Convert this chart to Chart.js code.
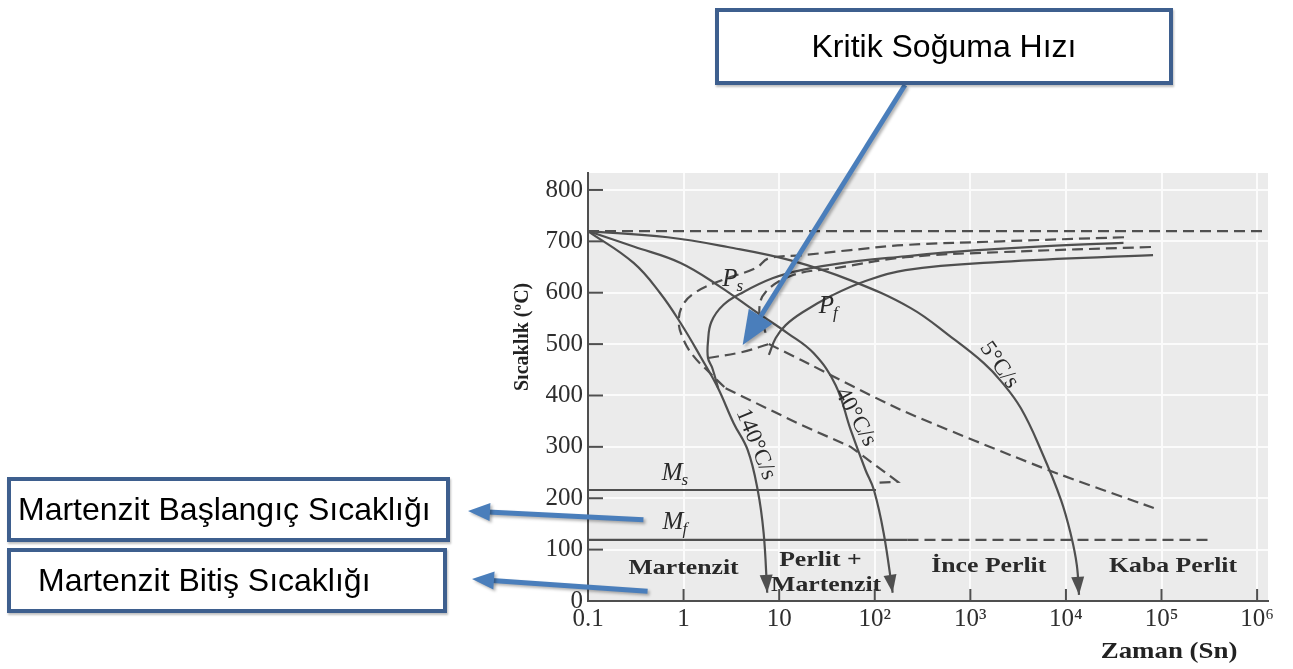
<!DOCTYPE html>
<html lang="tr">
<head>
<meta charset="utf-8">
<title>Soğuma Eğrileri</title>
<script src="https://cdn.jsdelivr.net/npm/chart.js@4.4.1/dist/chart.umd.min.js"></script>
<style>
  html, body { margin: 0; padding: 0; background: #fff; }
  #wrap { position: relative; width: 1293px; height: 669px; overflow: hidden; }
  #grafik { position: absolute; left: 0; top: 0; }
  .kutu {
    position: absolute; box-sizing: border-box;
    border: 4px solid #3e5f8e; background: #fff;
    font-family: "Liberation Sans", Arial, sans-serif; font-size: 32px; color: #000;
    display: flex; align-items: center; white-space: nowrap;
    box-shadow: 1px 2px 2px rgba(0, 0, 0, 0.25);
  }
</style>
</head>
<body>
<div id="wrap">
  <canvas id="grafik" width="1293" height="669"></canvas>
  <div class="kutu" style="left:715px; top:8px; width:458px; height:77px; justify-content:center;">Kritik Soğuma Hızı</div>
  <div class="kutu" style="left:7px; top:477px; width:443px; height:65px; padding-left:7px;">Martenzit Başlangıç Sıcaklığı</div>
  <div class="kutu" style="left:7px; top:548px; width:440px; height:65px; padding-left:27px;">Martenzit Bitiş Sıcaklığı</div>
</div>
<script>
// ===== EKSENLER =====
const xTickValues = [0.1, 1, 10, 100, 1e3, 1e4, 1e5, 1e6];
const xTickLabels = ['0.1', '1', '10', '10²', '10³', '10⁴', '10⁵', '10⁶'];
const yTickValues = [0, 100, 200, 300, 400, 500, 600, 700, 800];

// ===== EĞRİLER [zaman (s), sıcaklık (°C)] =====
const a1Line = [[0.1, 720], [1.3e6, 720]];
const msLine = [[0.1, 216], [103, 216]];
const mfSolid = [[0.1, 119], [220, 119]];
const mfDashed = [[220, 119], [3.3e5, 119]];

// izotermal (kesikli) perlit başlangıç / bitiş
const psTTT = [[40500, 708], [2090, 700], [211, 693], [56, 683], [17.6, 673], [7.8, 667], [5.7, 648],
  [2.56, 625], [1.34, 601], [0.98, 576], [0.89, 543], [0.98, 512], [1.24, 479], [1.83, 446], [2.75, 414]];
const psTTTLow = [[2.75, 414], [15.6, 346], [56, 300], [174, 232], [105, 230]];
const pfTTT = [[77600, 689], [2090, 679], [211, 669], [39, 648], [13.8, 634], [7.2, 601], [6.2, 565], [7.2, 522]];

// dönüşümün durduğu çizgi
const stopArc = [[1.8, 473], [4, 484], [7.8, 500]];
const stopDiag = [[7.8, 500], [17, 469], [187, 372], [6500, 255], [83000, 181]];

// sürekli soğuma (düz) perlit başlangıç / bitiş
const psCCT = [[40000, 697], [7000, 691], [620, 679], [210, 671], [56, 660], [17, 644], [8.5, 628], [4.2, 601],
  [2.6, 576], [1.95, 543], [1.8, 505], [1.8, 473], [2.0, 453], [2.3, 414]];
const pfCCT = [[81500, 673], [2100, 660], [210, 644], [75, 621], [36, 595], [17.6, 562], [11.7, 537], [9.2, 512], [7.8, 479]];

// soğuma hızları
const cool140 = [[0.1, 720], [0.3, 658], [0.57, 599], [0.93, 541], [1.51, 475], [2.27, 416], [3.34, 346],
  [4.68, 294], [5.96, 216], [6.88, 132], [7.5, 16]];
const cool40 = [[0.1, 720], [0.3, 690], [0.93, 658], [2.44, 611], [5.4, 566], [12.3, 521], [23, 482], [39, 420],
  [56, 333], [80, 255], [98, 216], [124, 132], [154, 16]];
const cool5 = [[0.1, 720], [0.68, 708], [2.9, 689], [13.2, 663], [56, 624], [238, 570], [625, 514], [1384, 463],
  [2090, 428], [3380, 375], [5470, 294], [8870, 197], [11300, 128], [13000, 70], [13700, 12]];

// ===== ETİKETLER (veri koordinatında) =====
const curveLabels = [
  { text: '140°C/s', x: 5.7, y: 305, angle: 68 },
  { text: '40°C/s', x: 63, y: 358, angle: 61 },
  { text: '5°C/s', x: 2000, y: 459, angle: 55 }
];
const phaseLabels = [
  { main: 'P', sub: 's', x: 3.3, y: 628 },
  { main: 'P', sub: 'f', x: 33, y: 576 },
  { main: 'M', sub: 's', x: 0.82, y: 251 },
  { main: 'M', sub: 'f', x: 0.82, y: 156 }
];
const regionLabels = [
  { text: 'Martenzit', x: 1.0, y: 64 },
  { text: 'Perlit +', x: 27, y: 80 },
  { text: 'Martenzit', x: 31, y: 31 },
  { text: 'İnce Perlit', x: 1560, y: 68 },
  { text: 'Kaba Perlit', x: 132000, y: 68 }
];
// mavi oklar: uç noktası grafikte (veri), diğer ucu kutuda (piksel)
const blueArrows = [
  { from: { px: 905, py: 85 }, to: { x: 4.15, y: 498 }, head: [34, 28] },
  { from: { x: 0.38, y: 158 }, to: { px: 468, py: 511 }, head: [22, 18] },
  { from: { x: 0.42, y: 19 }, to: { px: 472, py: 579 }, head: [22, 18] }
];

// ===== STİL =====
const curveColor = '#4f4f4f';
const serif = '"Liberation Serif", "Times New Roman", serif';
const dashed = [11, 6];

function pts(arr) {
  return arr.map(([x, y]) => ({ x, y }));
}

function line(data, opts) {
  return Object.assign({
    data: pts(data), showLine: true, borderColor: curveColor, borderWidth: 2.2,
    pointRadius: 0, pointHoverRadius: 0, fill: false, tension: 0.4
  }, opts);
}

function arrowHead(ctx, x0, y0, x1, y1, len, wid, color) {
  const a = Math.atan2(y1 - y0, x1 - x0);
  ctx.save();
  ctx.translate(x1, y1);
  ctx.rotate(a);
  ctx.beginPath();
  ctx.moveTo(0, 0);
  ctx.lineTo(-len, wid / 2);
  ctx.lineTo(-len, -wid / 2);
  ctx.closePath();
  ctx.fillStyle = color;
  ctx.fill();
  ctx.restore();
}

function stretchText(ctx, text, cx, cy, font, sx, angle) {
  ctx.save();
  ctx.translate(cx, cy);
  if (angle) ctx.rotate(angle * Math.PI / 180);
  ctx.scale(sx, 1);
  ctx.font = font;
  ctx.textAlign = 'center';
  ctx.textBaseline = 'middle';
  ctx.fillText(text, 0, 0);
  ctx.restore();
}

function subLabel(ctx, main, sub, cx, cy) {
  ctx.save();
  ctx.textAlign = 'left';
  ctx.textBaseline = 'alphabetic';
  ctx.font = 'italic 25px ' + serif;
  const w1 = ctx.measureText(main).width;
  ctx.font = 'italic 17px ' + serif;
  const w2 = ctx.measureText(sub).width;
  const x0 = cx - (w1 + w2) / 2;
  ctx.font = 'italic 25px ' + serif;
  ctx.fillText(main, x0, cy + 8);
  ctx.font = 'italic 17px ' + serif;
  ctx.fillText(sub, x0 + w1 - 1, cy + 13);
  ctx.restore();
}

// ===== EKLENTİ =====
const extras = {
  id: 'extras',
  beforeDraw(chart) {
    const { ctx, chartArea: a } = chart;
    ctx.save();
    ctx.fillStyle = '#ebebeb';
    ctx.fillRect(a.left, a.top, a.right - a.left, a.bottom - a.top);
    ctx.restore();
  },
  afterDatasetsDraw(chart) {
    const { ctx, chartArea: a } = chart;
    const sx = chart.scales.x, sy = chart.scales.y;
    const X = v => sx.getPixelForValue(v), Y = v => sy.getPixelForValue(v);

    // içe dönük tik çizgileri
    ctx.save();
    ctx.strokeStyle = curveColor;
    ctx.lineWidth = 2;
    yTickValues.forEach(v => {
      ctx.beginPath(); ctx.moveTo(a.left, Y(v)); ctx.lineTo(a.left + 15, Y(v)); ctx.stroke();
    });
    xTickValues.forEach(v => {
      ctx.beginPath(); ctx.moveTo(X(v), a.bottom); ctx.lineTo(X(v), a.bottom - 12); ctx.stroke();
    });
    ctx.restore();

    // soğuma eğrilerinin ok uçları
    [cool140, cool40, cool5].forEach(c => {
      const p = c[c.length - 1], q = c[c.length - 2];
      arrowHead(ctx, X(q[0]), Y(q[1]), X(p[0]), Y(p[1]), 18, 13, curveColor);
    });

    ctx.fillStyle = '#2a2a2a';
    curveLabels.forEach(l => stretchText(ctx, l.text, X(l.x), Y(l.y), '23px ' + serif, 1, l.angle));
    phaseLabels.forEach(l => subLabel(ctx, l.main, l.sub, X(l.x), Y(l.y)));
    regionLabels.forEach(l => stretchText(ctx, l.text, X(l.x), Y(l.y), 'bold 22px ' + serif, 1.17, 0));

    // eksen başlıkları
    ctx.fillStyle = '#222';
    stretchText(ctx, 'Sıcaklık (ºC)', a.left - 65, Y(514), 'bold 20px ' + serif, 1, -90);
    stretchText(ctx, 'Zaman (Sn)', X(1.2e5), 652, 'bold 24px ' + serif, 1.12, 0);
  },
  afterDraw(chart) {
    const { ctx } = chart;
    const sx = chart.scales.x, sy = chart.scales.y;
    const P = o => (o.px !== undefined ? [o.px, o.py] : [sx.getPixelForValue(o.x), sy.getPixelForValue(o.y)]);
    blueArrows.forEach(ar => {
      const [x0, y0] = P(ar.from), [x1, y1] = P(ar.to);
      const [len, wid] = ar.head;
      const ang = Math.atan2(y1 - y0, x1 - x0);
      ctx.save();
      ctx.shadowColor = 'rgba(0,0,0,0.3)';
      ctx.shadowOffsetX = 2;
      ctx.shadowOffsetY = 2;
      ctx.shadowBlur = 3;
      ctx.strokeStyle = '#4a7ebb';
      ctx.lineWidth = 5;
      ctx.beginPath();
      ctx.moveTo(x0, y0);
      ctx.lineTo(x1 - Math.cos(ang) * (len - 2), y1 - Math.sin(ang) * (len - 2));
      ctx.stroke();
      arrowHead(ctx, x0, y0, x1, y1, len, wid, '#4a7ebb');
      ctx.restore();
    });
  }
};

// ===== GRAFİK =====
const datasets = [
  line(a1Line, { borderDash: dashed, tension: 0 }),
  line(msLine, { tension: 0 }),
  line(mfSolid, { tension: 0 }),
  line(mfDashed, { borderDash: dashed, tension: 0 }),
  line(psTTT, { borderDash: dashed }),
  line(psTTTLow, { borderDash: dashed, tension: 0 }),
  line(pfTTT, { borderDash: dashed }),
  line(stopArc, { borderDash: dashed }),
  line(stopDiag, { borderDash: dashed, tension: 0.2 }),
  line(psCCT, {}),
  line(pfCCT, {}),
  line(cool140, {}),
  line(cool40, {}),
  line(cool5, {})
];

const tickFont = { family: serif, size: 25 };

new Chart(document.getElementById('grafik'), {
  type: 'scatter',
  data: { datasets },
  options: {
    responsive: false,
    animation: false,
    events: [],
    layout: { padding: { left: 500, top: 173, right: 25, bottom: 0 } },
    plugins: { legend: { display: false }, tooltip: { enabled: false } },
    scales: {
      x: {
        type: 'logarithmic',
        min: 0.1,
        max: 1.3e6,
        afterFit: s => { s.height = 68; },
        afterBuildTicks: s => { s.ticks = xTickValues.map(v => ({ value: v })); },
        ticks: {
          callback: v => xTickLabels[xTickValues.indexOf(v)],
          font: tickFont, color: '#2e2e2e', padding: 3, maxRotation: 0, autoSkip: false
        },
        grid: { color: '#fbfbfb', lineWidth: 2, drawTicks: false },
        border: { color: curveColor, width: 2 }
      },
      y: {
        min: 0,
        max: 833,
        afterFit: s => { s.width = 88; },
        afterBuildTicks: s => { s.ticks = yTickValues.map(v => ({ value: v })); },
        ticks: { callback: v => String(v), font: tickFont, color: '#2e2e2e', padding: 5 },
        grid: { color: '#fbfbfb', lineWidth: 2, drawTicks: false },
        border: { color: curveColor, width: 2 }
      }
    }
  },
  plugins: [extras]
});
</script>
</body>
</html>
